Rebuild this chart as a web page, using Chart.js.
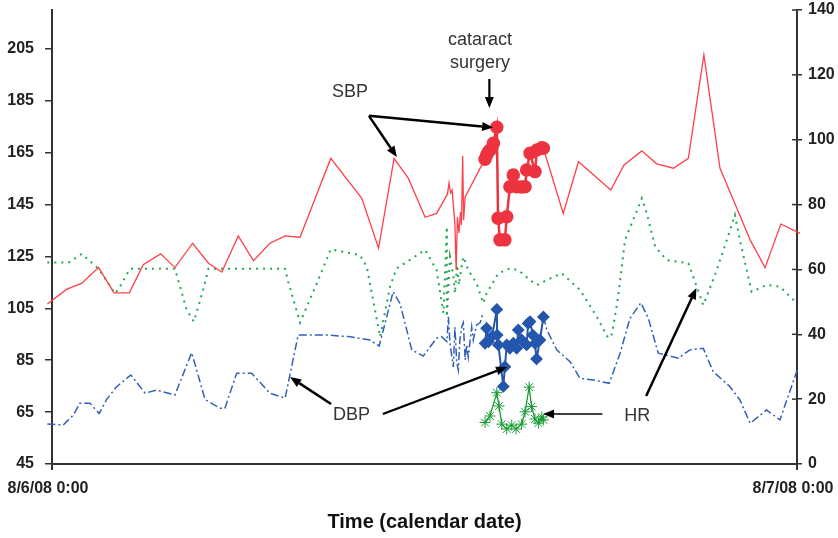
<!DOCTYPE html>
<html>
<head>
<meta charset="utf-8">
<script src="https://cdn.jsdelivr.net/npm/chart.js@4.4.0/dist/chart.umd.min.js"></script>
<style>
  html, body { margin: 0; padding: 0; background: #fff; }
  #wrap { width: 838px; height: 538px; }
</style>
</head>
<body>
<div id="wrap"><canvas id="bpChart" width="838" height="538"></canvas></div>
<script>
// Axis ticks
const xTickHours = [0, 24];
const xTickLabels = ['8/6/08 0:00', '8/7/08 0:00'];
const leftTicks = [45, 65, 85, 105, 125, 145, 165, 185, 205];
const rightTicks = [0, 20, 40, 60, 80, 100, 120, 140];

// SBP (left axis), hours after 8/6/08 0:00
const sbpHours = [-0.15,0.47,0.96,1.50,2.00,2.49,2.94,3.50,3.96,4.53,5.04,5.47,6.00,6.49,7.02,7.51,7.99,8.98,9.98,10.52,11.02,11.48,12.02,12.39,12.74,12.79,12.84,12.89,12.95,12.98,13.02,13.06,13.11,13.16,13.19,13.23,13.26,13.31,13.95,14.5,15.83,16.47,16.96,18.00,18.43,19.00,19.48,20.02,20.50,21.00,21.52,21.95,22.49,22.97,23.48,24.10];
const sbpValues = [106.7,112.3,114.7,120.7,111.0,111.0,121.8,126.0,120.7,130.1,122.4,119.0,132.9,123.4,130.1,132.9,132.4,162.8,147.4,128.2,162.8,155.1,140.1,141.6,149.0,153.3,149.5,150.6,141.8,137.1,119.8,140.2,134.1,142.1,137.1,163.7,139.1,147.9,162.6,null,166.7,141.6,161.5,150.6,160.3,165.7,160.7,159.0,162.8,202.7,159.0,146.8,131.4,120.7,137.5,133.9];
const sbpOpHours = [13.95,14.00,14.06,14.11,14.22,14.33,14.37,14.43,14.59,14.65,14.75,14.86,14.97,15.13,15.24,15.29,15.40,15.56,15.62,15.78,15.83];
const sbpOpValues = [162.5,164.1,165.4,166.0,168.6,174.8,139.7,131.4,131.4,140.3,151.9,156.4,151.9,151.8,151.9,158.3,164.8,157.7,166.0,166.9,166.7];

// DBP (left axis)
const dbpHours = [-0.15,0.36,0.69,0.90,1.22,1.52,1.76,2.08,2.54,3.00,3.37,3.96,4.50,4.93,5.41,5.57,5.95,6.43,7.02,7.51,7.72,7.93,8.85,9.55,10.24,10.54,10.99,11.21,11.59,11.96,12.39,12.55,12.72,12.77,12.82,12.93,12.98,13.04,13.09,13.14,13.20,13.25,13.31,13.36,13.41,13.52,13.57,13.68,13.79,13.89,14.5,15.83,15.94,16.26,16.69,17.01,17.44,17.95,18.30,18.62,18.97,19.21,19.53,20.18,20.55,20.98,21.30,21.84,22.16,22.49,23.02,23.45,24.03];
const dbpValues = [60.4,60.0,63.9,68.4,68.4,64.5,69.9,74.8,79.3,72.3,73.5,71.6,87.9,69.9,66.5,66.5,80.0,80.0,72.3,70.4,82.5,94.7,94.7,94.1,92.8,90.5,111.4,106.9,89.0,86.6,93.5,94.1,92.2,101.7,91.6,82.4,97.8,83.9,81.2,92.8,97.8,99.4,85.1,90.9,86.2,97.8,92.8,98.6,99.4,103.3,null,101.7,96.7,89.0,84.4,78.0,77.4,76.1,87.7,101.2,107.1,101.2,87.7,85.8,89.0,89.6,80.6,74.8,69.7,60.7,65.8,62.0,82.0];
const dbpOpHours = [13.95,14.00,14.06,14.18,14.33,14.34,14.38,14.54,14.59,14.65,14.75,14.86,14.97,15.02,15.13,15.18,15.29,15.34,15.40,15.49,15.56,15.61,15.72,15.83];
const dbpOpValues = [91.5,97.3,92.1,94.3,104.6,94.7,90.9,74.9,82.5,90.9,89.6,91.6,89.6,96.7,92.8,92.1,90.9,99.2,99.9,94.7,91.5,85.5,92.8,101.7];

// HR (right axis)
const hrHours = [-0.15,0.53,0.96,1.49,2.03,2.19,2.51,3.96,4.34,4.57,4.87,5.04,7.51,7.61,7.99,8.53,8.98,9.92,10.14,10.57,10.89,11.10,12.02,12.39,12.61,12.72,12.72,12.82,12.93,12.98,13.05,13.11,13.18,13.25,13.41,13.68,13.89,14.00,14.38,14.75,15.02,15.40,15.62,15.94,16.42,17.01,17.55,17.92,18.04,18.24,18.46,19.00,19.16,19.43,19.80,20.50,20.77,20.98,21.36,21.74,22.00,22.16,22.54,23.02,23.45,23.99];
const hrValues = [62.1,62.1,64.8,60.3,52.6,54.7,60.2,60.2,47.5,43.9,53.7,60.2,60.2,56.2,43.6,55.7,66.2,64.4,60.8,39.2,54.7,60.3,66.0,59.8,46.5,73.2,45.4,63.9,58.3,52.6,61.4,55.2,59.8,63.9,59.8,55.7,49.6,52.6,58.8,60.3,59.8,56.7,55.2,56.7,58.8,53.7,45.4,38.8,40.1,51.6,69.1,81.9,77.3,67.0,62.9,61.9,54.7,49.0,58.3,69.1,76.8,69.1,53.1,55.2,54.7,49.6];
const hrOpHours = [13.95,14.11,14.33,14.40,14.49,14.65,14.81,14.95,15.13,15.24,15.37,15.45,15.56,15.67,15.78,15.83];
const hrOpValues = [12.8,14.8,22.0,17.9,12.3,10.8,12.0,10.8,12.3,16.1,23.7,17.7,13.9,12.6,14.5,13.6];

// Callouts, in (hour, left-axis value)
const labelNotes = [
  { text: 'cataract', h: 13.79, v: 208.5 },
  { text: 'surgery', h: 13.79, v: 199.6 },
  { text: 'SBP', h: 9.60, v: 188.4 },
  { text: 'DBP', h: 9.65, v: 63.9 },
  { text: 'HR', h: 18.85, v: 63.5 }
];
const arrowNotes = [
  { from: [14.09, 193.4], to: [14.09, 182.2], w: 2.2 },
  { from: [10.21, 179.2], to: [14.21, 174.7], w: 2.5 },
  { from: [10.21, 179.2], to: [11.11, 163.3], w: 2.5 },
  { from: [8.99, 68.1], to: [7.67, 78.5], w: 2.5 },
  { from: [10.66, 64.3], to: [14.66, 82.4], w: 2.2 },
  { from: [17.73, 64.3], to: [15.82, 64.3], w: 1.4 },
  { from: [19.14, 71.2], to: [20.76, 112.8], w: 2.5 }
];

const family = '"Liberation Sans", Arial, sans-serif';
const tickFont = { family: family, size: 16, weight: 'bold' };

function toPoints(hours, values) {
  return hours.map((h, i) => ({ x: h, y: values[i] }));
}

function drawArrow(ctx, x1, y1, x2, y2, w) {
  const ang = Math.atan2(y2 - y1, x2 - x1);
  const len = 11, half = 4.5;
  const bx = x2 - len * Math.cos(ang), by = y2 - len * Math.sin(ang);
  ctx.strokeStyle = '#000';
  ctx.fillStyle = '#000';
  ctx.lineWidth = w;
  ctx.beginPath();
  ctx.moveTo(x1, y1);
  ctx.lineTo(bx, by);
  ctx.stroke();
  ctx.beginPath();
  ctx.moveTo(x2, y2);
  ctx.lineTo(bx + half * Math.sin(ang), by - half * Math.cos(ang));
  ctx.lineTo(bx - half * Math.sin(ang), by + half * Math.cos(ang));
  ctx.closePath();
  ctx.fill();
}

const notes = {
  id: 'notes',
  afterDatasetsDraw(chart) {
    const { ctx, chartArea, scales: { x, yL, yR } } = chart;
    ctx.save();
    // right-axis ticks cross the axis line
    ctx.strokeStyle = '#333';
    ctx.lineWidth = 1.5;
    rightTicks.forEach(v => {
      const y = yR.getPixelForValue(v);
      ctx.beginPath();
      ctx.moveTo(chartArea.right - 5, y);
      ctx.lineTo(chartArea.right, y);
      ctx.stroke();
    });
    ctx.fillStyle = '#333';
    ctx.font = '18px ' + family;
    ctx.textAlign = 'center';
    ctx.textBaseline = 'middle';
    labelNotes.forEach(n => ctx.fillText(n.text, x.getPixelForValue(n.h), yL.getPixelForValue(n.v)));
    arrowNotes.forEach(a => drawArrow(ctx,
      x.getPixelForValue(a.from[0]), yL.getPixelForValue(a.from[1]),
      x.getPixelForValue(a.to[0]), yL.getPixelForValue(a.to[1]), a.w));
    ctx.restore();
  }
};

const lineBase = { pointRadius: 0, tension: 0, clip: 8, spanGaps: false };

new Chart(document.getElementById('bpChart').getContext('2d'), {
  type: 'line',
  data: {
    datasets: [
      Object.assign({ label: 'SBP intraop', data: toPoints(sbpOpHours, sbpOpValues), yAxisID: 'yL',
        borderColor: '#ee3340', backgroundColor: '#ee3340', borderWidth: 2.5,
        pointRadius: 5.5, pointStyle: 'circle', order: 1 }, { tension: 0, clip: 8 }),
      Object.assign({ label: 'DBP intraop', data: toPoints(dbpOpHours, dbpOpValues), yAxisID: 'yL',
        borderColor: '#2456ad', backgroundColor: '#2456ad', borderWidth: 2,
        pointRadius: 5, pointStyle: 'rectRot', order: 2 }, { tension: 0, clip: 8 }),
      Object.assign({ label: 'HR intraop', data: toPoints(hrOpHours, hrOpValues), yAxisID: 'yR',
        borderColor: '#1a9a35', backgroundColor: '#1a9a35', borderWidth: 1.3,
        pointRadius: 5.5, pointStyle: 'star', pointBorderWidth: 1, order: 3 }, { tension: 0, clip: 8 }),
      Object.assign({ label: 'SBP', data: toPoints(sbpHours, sbpValues), yAxisID: 'yL',
        borderColor: '#ff4048', borderWidth: 1.3, order: 4 }, lineBase),
      Object.assign({ label: 'DBP', data: toPoints(dbpHours, dbpValues), yAxisID: 'yL',
        borderColor: '#3060b8', borderWidth: 1.5, borderDash: [8, 3, 2, 3], order: 5 }, lineBase),
      Object.assign({ label: 'HR', data: toPoints(hrHours, hrValues), yAxisID: 'yR',
        borderColor: '#20a850', borderWidth: 2, borderDash: [2, 5], order: 6 }, lineBase)
    ]
  },
  options: {
    responsive: false,
    animation: false,
    layout: { padding: { top: 10, left: 0, right: 0, bottom: 0 } },
    plugins: { legend: { display: false }, tooltip: { enabled: false } },
    scales: {
      x: {
        type: 'linear', min: 0, max: 24,
        afterBuildTicks: s => { s.ticks = xTickHours.map(v => ({ value: v })); },
        afterFit: s => { s.height = 74; s.paddingLeft = 0; s.paddingRight = 0; },
        ticks: {
          callback: v => xTickLabels[xTickHours.indexOf(v)],
          font: tickFont, color: '#222', padding: 9, maxRotation: 0, autoSkip: false, labelOffset: -4
        },
        grid: { drawOnChartArea: false, tickLength: 6, color: '#333', lineWidth: 2 },
        border: { color: '#333', width: 2 },
        title: {
          display: true, text: 'Time (calendar date)', color: '#111',
          font: { family: family, size: 20, weight: 'bold' }, padding: { top: 0, bottom: 4 }
        }
      },
      yL: {
        position: 'left', min: 45, max: 220,
        afterBuildTicks: s => { s.ticks = leftTicks.map(v => ({ value: v })); },
        afterFit: s => { s.width = 52; s.paddingTop = 0; s.paddingBottom = 0; },
        ticks: { font: tickFont, color: '#222', padding: 11 },
        grid: { drawOnChartArea: false, tickLength: 7, color: '#333', lineWidth: 1.5 },
        border: { color: '#333', width: 2 }
      },
      yR: {
        position: 'right', min: 0, max: 140,
        afterBuildTicks: s => { s.ticks = rightTicks.map(v => ({ value: v })); },
        afterFit: s => { s.width = 41; s.paddingTop = 0; s.paddingBottom = 0; },
        ticks: { font: tickFont, color: '#222', padding: 6 },
        grid: { drawOnChartArea: false, tickLength: 5, color: '#333', lineWidth: 1.5 },
        border: { color: '#333', width: 2 }
      }
    }
  },
  plugins: [notes]
});
</script>
</body>
</html>
